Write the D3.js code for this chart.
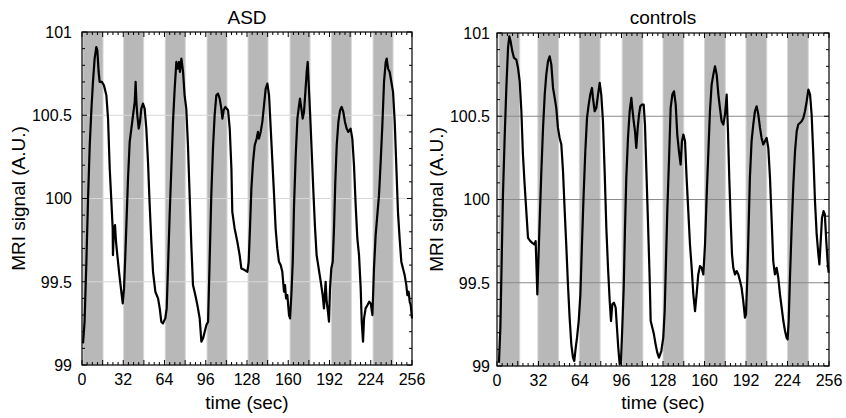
<!DOCTYPE html>
<html>
<head>
<meta charset="utf-8">
<script src="https://cdn.jsdelivr.net/npm/d3@7"></script>
<style>
  body { margin: 0; background: white; }
  text { font-family: "Liberation Sans", Arial, Helvetica, sans-serif; fill: black; }
</style>
</head>
<body>
<svg id="mainSvg" width="846" height="418"></svg>
<script>
// ---- data ----
var asdTime = [0.8, 2, 3.4, 4.7, 6, 7.2, 8.5, 9.8, 11.1, 11.9, 12.9, 13.7, 15.5, 17, 18.9, 20.2, 21.5, 22.8, 23.8, 24,
  24.8, 25.6, 26.4, 27.4, 29, 30.5, 31.6, 32.6, 33.6, 34.7, 35.7, 37, 38.3, 39.6, 40.9, 41.6, 42.2, 42.9, 44, 45,
  46, 47.3, 48.6, 49.9, 51.2, 52.5, 53.8, 55.1, 56.9, 59, 60.3, 61.5, 62.8, 64.6, 65.7, 66.7, 68, 69.3, 70.6, 71.9,
  73.2, 74.5, 75.3, 76, 77.1, 78.4, 79.6, 80.9, 82.2, 83.5, 84.8, 86.1, 87.9, 89.5, 91.3, 92.6, 93.9, 95.2, 96.5, 97.8,
  99, 100.3, 101.6, 102.9, 104.2, 105.5, 106.8, 108.1, 108.9, 109.9, 111.2, 113.3, 114.6, 115.9, 116.6, 118.4, 120.5, 122.3, 123.6, 126.2,
  128.3, 129.3, 130.3, 131.4, 132.7, 134, 135.5, 136.5, 137.3, 138.6, 139.9, 141.2, 142.5, 143.8, 145.1, 146.4, 147.7, 149, 150.2, 151.5,
  152.8, 154.1, 155.4, 156.7, 157.5, 158.3, 159.3, 160.6, 161.4, 162.4, 163.5, 164.5, 165.8, 167.1, 168.4, 169.1, 170.2, 171.2, 172.2, 173.3,
  174.3, 175.1, 175.8, 176.9, 178.2, 179.5, 180.8, 182, 183.6, 185.2, 186.7, 187.7, 189, 189.8, 190.8, 191.6, 192.4, 193.4, 194.5, 195.5,
  196.5, 197.6, 198.9, 200.2, 201.4, 202.7, 204, 205.3, 206.6, 208.4, 209.7, 211, 212.3, 213.6, 214.9, 216.2, 217, 218, 218.8, 220,
  221.5, 222.8, 224, 225.3, 226.5, 227.8, 229.1, 230.4, 231.7, 233, 234.3, 235.6, 236.4, 237.4, 238.7, 240, 241.3, 242.6, 243.9, 245.1,
  246.4, 247.7, 249, 250.3, 251.6, 252.4, 253.4, 254.2, 255, 256];
var asdSignal = [99.13, 99.26, 99.62, 100.0, 100.32, 100.52, 100.7, 100.84, 100.91, 100.89, 100.76, 100.7, 100.7, 100.68, 100.62, 100.48, 100.18, 99.98, 99.82, 99.66,
  99.82, 99.84, 99.74, 99.66, 99.54, 99.44, 99.37, 99.46, 99.66, 99.9, 100.12, 100.34, 100.42, 100.5, 100.58, 100.7, 100.58, 100.5, 100.42, 100.46,
  100.54, 100.57, 100.54, 100.42, 100.22, 99.96, 99.74, 99.56, 99.44, 99.4, 99.34, 99.26, 99.25, 99.28, 99.34, 99.58, 99.9, 100.18, 100.46, 100.66,
  100.82, 100.78, 100.82, 100.76, 100.84, 100.76, 100.62, 100.54, 100.32, 100.02, 99.72, 99.48, 99.42, 99.36, 99.28, 99.14, 99.16, 99.2, 99.24, 99.26,
  99.62, 100.02, 100.3, 100.5, 100.62, 100.63, 100.6, 100.54, 100.48, 100.53, 100.55, 100.53, 100.42, 100.18, 99.92, 99.82, 99.74, 99.66, 99.58, 99.57,
  99.56, 99.62, 99.82, 100.06, 100.22, 100.32, 100.36, 100.4, 100.36, 100.4, 100.46, 100.56, 100.66, 100.69, 100.62, 100.42, 100.22, 100.02, 99.82, 99.7,
  99.62, 99.6, 99.56, 99.44, 99.48, 99.4, 99.42, 99.3, 99.28, 99.42, 99.62, 99.96, 100.26, 100.48, 100.56, 100.6, 100.54, 100.48, 100.52, 100.64,
  100.76, 100.82, 100.7, 100.52, 100.28, 100.04, 99.82, 99.66, 99.58, 99.5, 99.42, 99.34, 99.5, 99.38, 99.32, 99.26, 99.46, 99.58, 99.62, 99.82,
  100.1, 100.32, 100.46, 100.53, 100.55, 100.52, 100.46, 100.42, 100.4, 100.42, 100.36, 100.2, 99.96, 99.76, 99.66, 99.46, 99.26, 99.14, 99.28, 99.34,
  99.36, 99.38, 99.37, 99.3, 99.58, 99.78, 99.9, 100.02, 100.22, 100.44, 100.7, 100.82, 100.84, 100.78, 100.76, 100.7, 100.64, 100.46, 100.18, 99.92,
  99.76, 99.62, 99.58, 99.54, 99.48, 99.42, 99.44, 99.38, 99.36, 99.28];

var ctrlTime = [1.5, 2.6, 3.6, 4.6, 5.9, 7.2, 8.5, 9.5, 10.5, 11.8, 13.1, 14.9, 16.2, 17.5, 18.8, 20, 21.3, 22.6, 23.9, 25.7,
  27.2, 28.8, 29.8, 30.3, 31.1, 31.9, 32.9, 34.2, 35.5, 36.8, 38, 39.3, 40.6, 41.9, 43.2, 44.5, 45.7, 47, 48.3, 49.6,
  50.9, 52.2, 53.5, 54.7, 56, 57.3, 58.6, 59.6, 60.7, 61.7, 63, 64.3, 65.5, 66.8, 68.1, 69.4, 70.7, 71.9, 73.2, 74,
  75.3, 76.6, 77.9, 79.2, 80.4, 81.7, 83, 84.3, 85.6, 86.9, 87.9, 88.9, 90.2, 91.5, 92.5, 93.5, 94.6, 95.6, 96.6, 97.7,
  98.7, 99.7, 101, 102.3, 103.6, 104.3, 105.4, 106.4, 107.4, 108.5, 109.5, 110.5, 111.8, 113.1, 114.1, 115.1, 116.4, 117.7, 118.5, 119.8,
  121, 122.3, 123.6, 124.9, 126.7, 128.2, 129.3, 130.3, 131.3, 132.6, 133.9, 135.2, 136.5, 137.8, 139, 140.3, 141.6, 142.6, 143.7, 145,
  146.2, 147.5, 148.8, 150.1, 151.4, 152.7, 153.9, 155.2, 156.5, 157.8, 159.1, 160.4, 161.7, 163, 164.2, 165.5, 166.8, 168.1, 169.4, 170.7,
  171.9, 173.2, 174.5, 175.8, 177.1, 178.1, 179.1, 180.2, 181.2, 182.2, 183.5, 184.8, 186.1, 187.4, 188.6, 189.9, 191.2, 192, 193, 194,
  195, 196.3, 197.6, 198.9, 200.2, 201.5, 202.8, 204, 205.3, 206.6, 207.9, 209.2, 210.5, 211.8, 213, 214.3, 215.6, 216.9, 218.2, 219.5,
  220.8, 222.1, 223.3, 224.1, 224.9, 225.9, 227.2, 228.5, 229.8, 231.1, 232.3, 233.6, 234.9, 236.2, 237.5, 238.8, 240.1, 241.4, 242.6, 243.9,
  245.2, 246.5, 247.8, 248.6, 249.6, 250.6, 251.8, 252.8, 253.9, 254.9, 255.7];
var ctrlSignal = [99.02, 99.23, 99.63, 100.03, 100.37, 100.67, 100.91, 100.98, 100.95, 100.89, 100.85, 100.84, 100.79, 100.71, 100.53, 100.27, 100.09, 99.93, 99.77, 99.75,
  99.74, 99.73, 99.75, 99.63, 99.43, 99.63, 99.87, 100.17, 100.43, 100.63, 100.75, 100.83, 100.86, 100.81, 100.67, 100.61, 100.55, 100.43, 100.37, 100.33,
  100.17, 99.93, 99.71, 99.49, 99.29, 99.13, 99.05, 99.03, 99.11, 99.17, 99.27, 99.43, 99.73, 100.03, 100.29, 100.49, 100.57, 100.63, 100.67, 100.61,
  100.53, 100.55, 100.63, 100.7, 100.63, 100.47, 100.17, 99.83, 99.59, 99.39, 99.27, 99.37, 99.38, 99.35, 99.23, 99.11, 99.01, 99.03, 99.23, 99.47,
  99.83, 100.13, 100.37, 100.53, 100.61, 100.55, 100.47, 100.41, 100.31, 100.43, 100.51, 100.56, 100.57, 100.57, 100.45, 100.19, 99.87, 99.53, 99.27, 99.23,
  99.19, 99.13, 99.08, 99.05, 99.09, 99.17, 99.33, 99.63, 99.93, 100.23, 100.55, 100.63, 100.65, 100.57, 100.39, 100.29, 100.21, 100.35, 100.39, 100.35,
  100.13, 99.93, 99.73, 99.59, 99.43, 99.33, 99.43, 99.55, 99.6, 99.59, 99.55, 99.73, 100.03, 100.29, 100.53, 100.69, 100.75, 100.8, 100.75, 100.63,
  100.55, 100.47, 100.45, 100.51, 100.63, 100.41, 100.13, 99.87, 99.67, 99.59, 99.55, 99.57, 99.55, 99.51, 99.47, 99.39, 99.29, 99.31, 99.53, 99.83,
  100.13, 100.35, 100.45, 100.53, 100.56, 100.51, 100.43, 100.37, 100.33, 100.35, 100.37, 100.31, 100.13, 99.87, 99.63, 99.55, 99.59, 99.53, 99.43, 99.35,
  99.27, 99.21, 99.17, 99.16, 99.27, 99.53, 99.83, 100.09, 100.29, 100.41, 100.45, 100.46, 100.47, 100.49, 100.53, 100.59, 100.66, 100.63, 100.51, 100.27,
  99.99, 99.79, 99.67, 99.61, 99.75, 99.89, 99.93, 99.91, 99.75, 99.63, 99.56];

// stimulus blocks (start, sec) - gray bands
var asdBlockStart = [0.8, 32.3, 64.6, 97, 128.8, 161.4, 193.4, 225.8];
var asdBlockLen = 15.5;
var ctrlBlockStart = [1.5, 31.5, 63.5, 96.5, 128, 160, 192, 224];
var ctrlBlockLen = 16;

var xTickValues = [0, 32, 64, 96, 128, 160, 192, 224, 256];
var yTickValues = [99, 99.5, 100, 100.5, 101];
var yGridValues = [99.5, 100, 100.5];

var bandColor = "#b8b8b8";
var lineColor = "black";

function drawPanel(svg, p)
{
    const x = d3.scaleLinear().domain([0, 256]).range([p.left, p.right]);
    const y = d3.scaleLinear().domain([99, 101]).range([p.bottom, p.top]);
    const g = svg.append("g");

    // stimulus bands
    g.selectAll("rect.band").data(p.blocks).join("rect")
        .attr("class", "band")
        .attr("x", d => x(d))
        .attr("y", y(101))
        .attr("width", d => x(d + p.blockLen) - x(d))
        .attr("height", y(99) - y(101))
        .attr("fill", bandColor)
        .attr("stroke", "#d6d6d6")
        .attr("stroke-width", 1);

    // horizontal grid
    g.selectAll("line.grid").data(yGridValues).join("line")
        .attr("x1", p.left).attr("x2", p.right)
        .attr("y1", d => y(d)).attr("y2", d => y(d))
        .attr("stroke", p.gridColor)
        .attr("stroke-width", 1);

    // minor/major ticks pointing inward on all four sides
    const xt = d3.range(0, 257, 4);
    g.selectAll("line.xtb").data(xt).join("line")
        .attr("x1", d => x(d)).attr("x2", d => x(d))
        .attr("y1", p.bottom).attr("y2", d => p.bottom - (d % 16 === 0 ? 5 : 3))
        .attr("stroke", "black").attr("stroke-width", 1);
    g.selectAll("line.xtt").data(xt).join("line")
        .attr("x1", d => x(d)).attr("x2", d => x(d))
        .attr("y1", p.top).attr("y2", d => p.top + (d % 16 === 0 ? 5 : 3))
        .attr("stroke", "black").attr("stroke-width", 1);
    const yt = d3.range(0, 21).map(i => 99 + i * 0.1);
    g.selectAll("line.ytl").data(yt).join("line")
        .attr("y1", d => y(d)).attr("y2", d => y(d))
        .attr("x1", p.left).attr("x2", (d, i) => p.left + (i % 5 === 0 ? 5 : 3))
        .attr("stroke", "black").attr("stroke-width", 1);
    g.selectAll("line.ytr").data(yt).join("line")
        .attr("y1", d => y(d)).attr("y2", d => y(d))
        .attr("x1", p.right).attr("x2", (d, i) => p.right - (i % 5 === 0 ? 5 : 3))
        .attr("stroke", "black").attr("stroke-width", 1);

    // signal line
    const pts = p.time.map((t, i) => [t, p.signal[i]]);
    const line = d3.line().x(d => x(d[0])).y(d => y(d[1]));
    g.append("path")
        .datum(pts)
        .attr("d", line)
        .attr("fill", "none")
        .attr("stroke", lineColor)
        .attr("stroke-width", 2.2)
        .attr("stroke-linejoin", "round");

    // frame
    g.append("rect")
        .attr("x", p.left).attr("y", p.top)
        .attr("width", p.right - p.left).attr("height", p.bottom - p.top)
        .attr("fill", "none").attr("stroke", "black").attr("stroke-width", 1.2);

    // tick labels
    g.selectAll("text.xl").data(xTickValues).join("text")
        .attr("x", d => x(d)).attr("y", p.bottom + 20)
        .attr("text-anchor", "middle").attr("font-size", 16)
        .text(d => d);
    g.selectAll("text.yl").data(yTickValues).join("text")
        .attr("x", p.left - p.labelGap).attr("y", d => y(d)).attr("dy", "0.36em")
        .attr("text-anchor", "end").attr("font-size", 16)
        .text(d => d);

    // titles
    g.append("text")
        .attr("x", (p.left + p.right) / 2).attr("y", 24)
        .attr("text-anchor", "middle").attr("font-size", 19)
        .text(p.title);
    g.append("text")
        .attr("x", (p.left + p.right) / 2).attr("y", 409)
        .attr("text-anchor", "middle").attr("font-size", 19)
        .text("time (sec)");
    g.append("text")
        .attr("transform", `translate(${p.yLabelX}, ${(p.top + p.bottom) / 2}) rotate(-90)`)
        .attr("text-anchor", "middle").attr("font-size", 19)
        .text("MRI signal (A.U.)");
}

const svg = d3.select("#mainSvg");
drawPanel(svg, {left: 82, right: 412, top: 32, bottom: 365, title: "ASD",
    time: asdTime, signal: asdSignal, blocks: asdBlockStart, blockLen: asdBlockLen,
    gridColor: "#d8d8d8", labelGap: 10, yLabelX: 25});
drawPanel(svg, {left: 497, right: 829, top: 33, bottom: 366, title: "controls",
    time: ctrlTime, signal: ctrlSignal, blocks: ctrlBlockStart, blockLen: ctrlBlockLen,
    gridColor: "#8a8a8a", labelGap: 7, yLabelX: 443});
</script>
</body>
</html>
